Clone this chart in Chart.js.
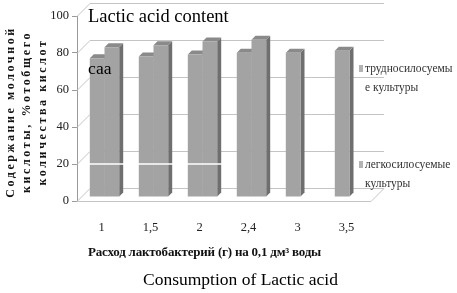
<!DOCTYPE html>
<html lang="ru">
<head>
<meta charset="UTF-8">
<title>Lactic acid content</title>
<script src="https://cdn.jsdelivr.net/npm/chart.js"></script>
<style>
  body { margin: 0; background: #fff; }
  .wrap { position: relative; width: 457px; height: 293px; font-family: 'Liberation Serif', serif; color: #000; overflow: hidden; }
  .wrap canvas { position: absolute; left: 0; top: 0; }
  .txt { position: absolute; white-space: nowrap; }
  .ytitle { left: -73px; top: 87px; width: 200px; height: 50px; transform: rotate(-90deg); font-weight: bold; font-size: 12px; line-height: 16px; letter-spacing: 2.6px; text-align: center; color: #111; }
  .xtitle { left: 88px; top: 244px; font-weight: bold; font-size: 13px; letter-spacing: -0.2px; color: #111; }
  .caption { left: 143px; top: 269px; font-size: 17.5px; }
  .head { left: 88px; top: 6px; font-size: 18.5px; }
  .note { left: 88px; top: 58px; font-size: 17.5px; }
  .leg { font-size: 11.5px; line-height: 19px; color: #333; }
  .mark { position: absolute; width: 4px; height: 7px; background: #b3b3b3; }
</style>
</head>
<body>
<div class="wrap">
  <canvas id="chart" width="457" height="293"></canvas>
  <div class="txt head">Lactic acid content</div>
  <div class="txt note">саа</div>
  <div class="txt ytitle">Содержание молочной<br>кислоты, %отобщего<br>количества кислот</div>
  <div class="txt xtitle">Расход лактобактерий (г) на 0,1 дм³ воды</div>
  <div class="txt caption">Consumption of Lactic acid</div>
  <span class="mark" style="left:359px; top:65px"></span>
  <div class="txt leg" style="left:365px; top:59px">трудносилосуемы<br>е культуры</div>
  <span class="mark" style="left:359px; top:161px"></span>
  <div class="txt leg" style="left:365px; top:155px">легкосилосуемые<br>культуры</div>
</div>
<script>
// data
const categories = ['1', '1,5', '2', '2,4', '3', '3,5'];
const hardToEnsile = [75, 76, 77, 78, 78, 79];
const easyToEnsile = [81, 82, 84, 85, null, null];
const yTicks = [0, 20, 40, 60, 80, 100];
const seriesNames = ['трудносилосуемые культуры', 'легкосилосуемые культуры'];

// fake 3d look: back wall offset, bar depth, and bar shift into the middle of the box
const WALL = 13, DEPTH = 4, SHIFT_X = 3, SHIFT_Y = -4;

function barBoxes(chart, i) {
  return chart.getDatasetMeta(i).data.map((bar, j) => {
    if (chart.data.datasets[i].data[j] == null) return null;
    const p = bar.getProps(['x', 'y', 'base', 'width'], true);
    return { l: p.x - p.width / 2, r: p.x + p.width / 2, top: p.y, base: p.base };
  });
}

const box3d = {
  id: 'box3d',
  beforeDatasetsDraw(chart) {
    const { ctx, chartArea: a, scales: { y } } = chart;
    ctx.save();
    ctx.strokeStyle = '#c4c4c4';
    ctx.lineWidth = 1;
    yTicks.forEach(v => {
      const py = Math.round(y.getPixelForValue(v)) + 0.5;
      ctx.beginPath();
      ctx.moveTo(a.left, py);
      ctx.lineTo(a.left + WALL, py - WALL);
      ctx.lineTo(a.right + WALL, py - WALL);
      if (v === 0) {
        ctx.moveTo(a.left, py);
        ctx.lineTo(a.right, py);
        ctx.lineTo(a.right + WALL, py - WALL);
      }
      ctx.stroke();
    });
    ctx.restore();

    // side and top faces first, the front faces drawn by Chart.js cover the hidden parts
    ctx.save();
    ctx.translate(SHIFT_X, SHIFT_Y);
    chart.data.datasets.forEach((ds, i) => {
      barBoxes(chart, i).forEach(b => {
        if (!b) return;
        ctx.fillStyle = '#6f6f6f';
        ctx.beginPath();
        ctx.moveTo(b.r, b.top);
        ctx.lineTo(b.r + DEPTH, b.top - DEPTH);
        ctx.lineTo(b.r + DEPTH, b.base - DEPTH);
        ctx.lineTo(b.r, b.base);
        ctx.closePath();
        ctx.fill();
        ctx.fillStyle = '#8a8a8a';
        ctx.beginPath();
        ctx.moveTo(b.l, b.top);
        ctx.lineTo(b.l + DEPTH, b.top - DEPTH);
        ctx.lineTo(b.r + DEPTH, b.top - DEPTH);
        ctx.lineTo(b.r, b.top);
        ctx.closePath();
        ctx.fill();
      });
    });
  },
  afterDatasetsDraw(chart) {
    const { ctx, scales: { y } } = chart;
    ctx.restore();
    // the white streak at the 20 level across the first three groups
    const a = barBoxes(chart, 0), b = barBoxes(chart, 1);
    const py = y.getPixelForValue(20);
    ctx.save();
    ctx.strokeStyle = '#ffffff';
    ctx.lineWidth = 1.5;
    for (let j = 0; j < 3; j++) {
      ctx.beginPath();
      ctx.moveTo(a[j].l + SHIFT_X - 1, py);
      ctx.lineTo(b[j].r + SHIFT_X + DEPTH + 1, py);
      ctx.stroke();
    }
    ctx.restore();
  }
};

const tickFont = { family: 'Liberation Serif', size: 12.5 };

new Chart(document.getElementById('chart'), {
  type: 'bar',
  data: {
    labels: categories,
    datasets: [
      { label: seriesNames[0], data: hardToEnsile, backgroundColor: '#a3a3a3', borderWidth: 0 },
      { label: seriesNames[1], data: easyToEnsile, backgroundColor: '#a3a3a3', borderWidth: 0 }
    ]
  },
  options: {
    responsive: false,
    animation: false,
    categoryPercentage: 0.6,
    barPercentage: 1.0,
    layout: { padding: { left: 0, right: 86, top: 16, bottom: 0 } },
    plugins: { legend: { display: false }, tooltip: { enabled: false } },
    scales: {
      x: {
        grid: { display: false, drawTicks: false },
        border: { display: false },
        ticks: { font: tickFont, color: '#222', padding: 19, maxRotation: 0 },
        afterFit(s) { s.height = 92; }
      },
      y: {
        min: 0,
        max: 100,
        ticks: { stepSize: 20, font: tickFont, color: '#222', padding: 3 },
        grid: { drawOnChartArea: false, tickLength: 5, color: '#9a9a9a' },
        border: { color: '#9a9a9a' },
        afterFit(s) { s.width = 77; }
      }
    }
  },
  plugins: [box3d]
});
</script>
</body>
</html>
